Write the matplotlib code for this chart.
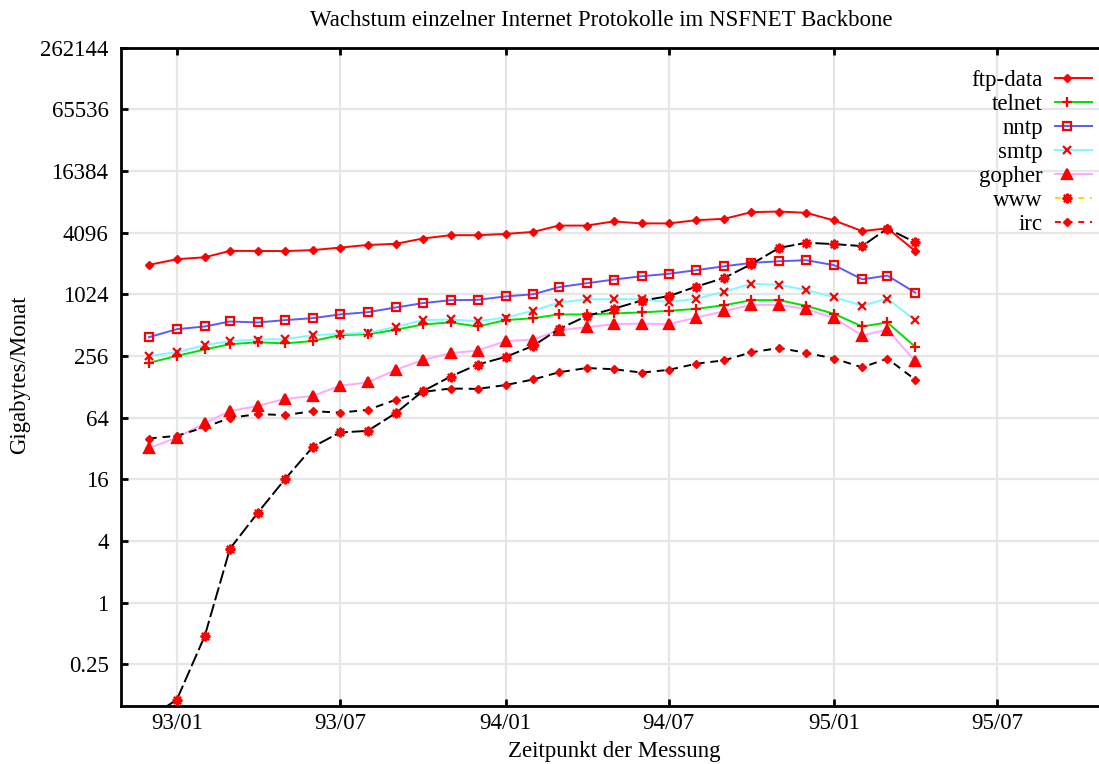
#import necessary libraries
import numpy as np
import pandas as pd
import matplotlib
matplotlib.use("Agg")
import matplotlib.pyplot as plt
import matplotlib.dates as mdates
from matplotlib.lines import Line2D

plt.rcParams["font.family"] = ["Liberation Serif", "DejaVu Serif"]
plt.rcParams["font.size"] = 16.5

#Messzeitpunkte (Monat) und Verkehr in Gigabytes/Monat
months = ["92/12", "93/01", "93/02", "93/03", "93/04", "93/05", "93/06", "93/07",
          "93/08", "93/09", "93/10", "93/11", "93/12", "94/01", "94/02", "94/03",
          "94/04", "94/05", "94/06", "94/07", "94/08", "94/09", "94/10", "94/11",
          "94/12", "95/01", "95/02", "95/03", "95/04"]
ftp_data = [1980, 2250, 2350, 2710, 2710, 2700, 2760, 2920, 3100, 3180, 3580, 3860, 3860, 3970,
            4160, 4790, 4790, 5260, 5030, 5030, 5410, 5580, 6480, 6570, 6380, 5370, 4230, 4510, 2700]
telnet = [219, 256, 296, 333, 348, 339, 358, 408, 417, 460, 519, 543, 496, 572,
          598, 650, 650, 665, 680, 705, 737, 801, 896, 896, 788, 659, 496, 543, 314]
nntp = [390, 467, 496, 555, 543, 572, 598, 650, 684, 760, 838, 896, 902, 975,
        1024, 1200, 1311, 1423, 1535, 1620, 1760, 1921, 2071, 2150, 2200, 1966, 1432, 1557, 1062]
smtp = [256, 278, 326, 358, 370, 373, 408, 420, 429, 492, 572, 581, 559, 607,
        708, 848, 915, 915, 915, 861, 926, 1085, 1300, 1262, 1128, 958, 792, 926, 571]
gopher = [32.2, 40.8, 56.5, 74, 83.3, 97.5, 104, 131, 141, 187, 234, 272, 289, 357,
          370, 456, 488, 522, 530, 522, 607, 700, 806, 806, 732, 598, 405, 463, 227]
www = [0.075, 0.113, 0.473, 3.36, 7.56, 16, 33.1, 45.8, 47.5, 70.7, 115.6, 161, 211, 250,
       322, 467, 627, 739, 887, 979, 1217, 1481, 2014, 2906, 3256, 3160, 3020, 4486, 3278]
irc = [40, 42.5, 51.5, 63.6, 69.3, 67.7, 73.9, 71.6, 76.1, 95.5, 114, 123, 122, 133,
       151, 177, 195, 190, 176, 187, 215, 232, 278, 306, 274, 241, 198, 241, 150]

y_ticks = [0.25, 1, 4, 16, 64, 256, 1024, 4096, 16384, 65536, 262144]
y_ticklabels = ["0.25", "1", "4", "16", "64", "256", "1024", "4096", "16384", "65536", "262144"]
x_ticks = ["93/01", "93/07", "94/01", "94/07", "95/01", "95/07"]

dates = pd.to_datetime(months, format="%y/%m")

#Stil je Protokoll: (name, daten, linienfarbe, linestyle, marker, legendenfarbe, legenden-linestyle)
series = [
    ("ftp-data", ftp_data, "#ff0000", "-", "D", "#ff0000", "-"),
    ("telnet", telnet, "#00e000", "-", "+", "#00e000", "-"),
    ("nntp", nntp, "#5a5aff", "-", "s", "#5a5aff", "-"),
    ("smtp", smtp, "#7ff8ff", "-", "x", "#7ff8ff", "-"),
    ("gopher", gopher, "#ffa8ff", "-", "^", "#ffa8ff", "-"),
    ("www", www, "black", (0, (7, 2)), (8, 2, 0), "#ffd800", (0, (3, 3))),
    ("irc", irc, "black", (0, (4, 3)), "D", "#ff0000", (0, (3, 3))),
]
msize = {"D": 4.5, "+": 7, "s": 6, "x": 6, "^": 6.5}

def marker_style(mk):
    if isinstance(mk, tuple):
        # asterisk for www
        return dict(marker=mk, markersize=7, markeredgecolor="red",
                    markerfacecolor="red", markeredgewidth=1.6)
    face = "none" if mk == "s" else "red"
    mew = 1.0 if mk == "D" else 1.6
    return dict(marker=mk, markersize=msize[mk], markeredgecolor="red",
                markerfacecolor=face, markeredgewidth=mew)

fig = plt.figure(figsize=(10.99, 7.64), dpi=100)
ax = fig.add_axes([121/1099, 1-706/764, 1-121/1099, (706-47.5)/764])

for name, vals, col, ls, mk, lcol, lls in series:
    ax.plot(dates, vals, color=col, linestyle=ls, linewidth=1.4, zorder=3,
            **marker_style(mk))

ax.set_yscale("log", base=2)
ax.set_ylim(0.098, 262144)
ax.set_yticks(y_ticks)
ax.set_yticklabels(y_ticklabels)
ax.yaxis.set_minor_locator(matplotlib.ticker.NullLocator())

ax.set_xlim(pd.Timestamp("1992-10-31"), pd.Timestamp("1995-10-22"))
ax.set_xticks(pd.to_datetime(x_ticks, format="%y/%m"))
ax.xaxis.set_major_formatter(mdates.DateFormatter("%y/%m"))

ax.grid(True, color="#e6e6e6", linewidth=1.6, zorder=0)
ax.set_axisbelow(True)
for s in ["left", "top", "bottom"]:
    ax.spines[s].set_linewidth(2.0)
ax.spines["right"].set_visible(False)
ax.tick_params(direction="in", length=5, width=2.0, top=True, right=False, pad=9)
ax.tick_params(axis="x", pad=5)

#Legende wie bei gnuplot: Text rechtsbündig, Linienprobe rechts daneben
for k, (name, vals, col, ls, mk, lcol, lls) in enumerate(series):
    yy = 0.954 - 0.0364 * k
    ax.text(0.9427, yy, name, transform=ax.transAxes, ha="right", va="center_baseline")
    ax.add_line(Line2D([0.955, 0.993], [yy, yy], transform=ax.transAxes, color=lcol,
                       linestyle=lls, linewidth=1.4, clip_on=False))
    ax.add_line(Line2D([0.967], [yy], transform=ax.transAxes, linestyle="none",
                       clip_on=False, **marker_style(mk)))

fig.text(601/1099, 1-21/764, "Wachstum einzelner Internet Protokolle im NSFNET Backbone",
         ha="center", va="center")
fig.text(614/1099, 1-752/764, "Zeitpunkt der Messung", ha="center", va="center")
fig.text(20/1099, 1-375/764, "Gigabytes/Monat", ha="center", va="center", rotation=90)

fig.savefig("out.png", dpi=100)
